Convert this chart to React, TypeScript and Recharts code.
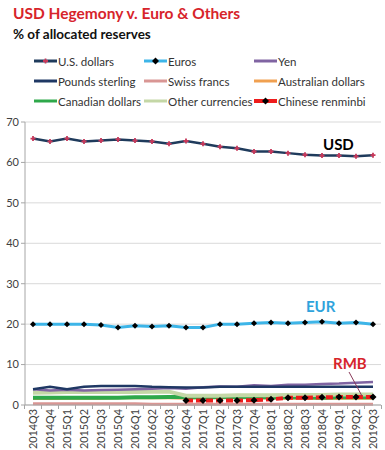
import { LineChart, Line, XAxis, YAxis, CartesianGrid } from "recharts";

const quarters = [
  "2014Q3", "2014Q4", "2015Q1", "2015Q2", "2015Q3", "2015Q4", "2016Q1",
  "2016Q2", "2016Q3", "2016Q4", "2017Q1", "2017Q2", "2017Q3", "2017Q4",
  "2018Q1", "2018Q2", "2018Q3", "2018Q4", "2019Q1", "2019Q2", "2019Q3",
];

const usd = [65.9, 65.2, 65.9, 65.2, 65.4, 65.7, 65.4, 65.2, 64.6, 65.3, 64.6, 63.9, 63.5, 62.7, 62.7, 62.3, 61.9, 61.7, 61.7, 61.5, 61.8];
const eur = [20.0, 20.0, 20.0, 20.0, 19.8, 19.2, 19.6, 19.4, 19.6, 19.2, 19.2, 20.0, 20.0, 20.2, 20.4, 20.2, 20.4, 20.6, 20.2, 20.4, 20.0];
const yen = [3.9, 3.6, 3.8, 3.6, 3.7, 3.8, 3.9, 4.0, 4.2, 4.0, 4.4, 4.6, 4.5, 4.9, 4.7, 5.0, 5.0, 5.2, 5.3, 5.5, 5.7];
const gbp = [3.9, 4.5, 3.9, 4.5, 4.7, 4.7, 4.7, 4.5, 4.4, 4.3, 4.3, 4.5, 4.5, 4.5, 4.5, 4.5, 4.5, 4.5, 4.5, 4.5, 4.5];
const chf = [0.3, 0.3, 0.3, 0.3, 0.3, 0.3, 0.3, 0.2, 0.2, 0.2, 0.2, 0.2, 0.2, 0.2, 0.2, 0.2, 0.2, 0.2, 0.2, 0.2, 0.2];
const aud = [1.6, 1.6, 1.7, 1.7, 1.7, 1.8, 1.8, 1.8, 1.8, 1.7, 1.8, 1.8, 1.8, 1.8, 1.7, 1.7, 1.7, 1.6, 1.7, 1.7, 1.7];
const cad = [1.8, 1.8, 1.8, 1.8, 1.8, 1.8, 1.9, 1.9, 1.95, 1.95, 1.9, 2.0, 2.0, 2.0, 1.9, 1.9, 1.9, 1.8, 1.9, 1.9, 1.9];
const other = [3.0, 3.1, 3.2, 3.2, 3.2, 3.2, 3.2, 3.3, 3.3, 2.3, 2.3, 2.3, 2.4, 2.4, 2.4, 2.5, 2.5, 2.5, 2.6, 2.6, 2.6];
const rmb = [null, null, null, null, null, null, null, null, null, 1.1, 1.1, 1.1, 1.1, 1.2, 1.4, 1.8, 1.8, 1.9, 1.95, 1.97, 2.0];

const yTicks = [0, 10, 20, 30, 40, 50, 60, 70];

const data = quarters.map((q, i) => ({
  q,
  usd: usd[i], eur: eur[i], yen: yen[i], gbp: gbp[i], chf: chf[i],
  aud: aud[i], cad: cad[i], other: other[i], rmb: rmb[i],
}));

const legend = [
  { name: "U.S. dollars", color: "#1f3b5c", mark: "plus" },
  { name: "Euros", color: "#3db5e8", mark: "diamond" },
  { name: "Yen", color: "#8064a2", mark: "" },
  { name: "Pounds sterling", color: "#1f3864", mark: "" },
  { name: "Swiss francs", color: "#d99694", mark: "" },
  { name: "Australian dollars", color: "#f0a050", mark: "" },
  { name: "Canadian dollars", color: "#2ea84a", mark: "" },
  { name: "Other currencies", color: "#c4d7a6", mark: "" },
  { name: "Chinese renminbi", color: "#ee1c1c", mark: "diamond" },
];

const font = "Lato, 'Liberation Sans', sans-serif";

const PlusDot = (props: any) => {
  const { cx, cy } = props;
  if (cx == null || cy == null) return null;
  return (
    <path d={`M${cx - 2.5},${cy}H${cx + 2.5}M${cx},${cy - 2.5}V${cy + 2.5}`} stroke="#c8385a" strokeWidth={1.8} />
  );
};

const Diamond = (size: number) => (props: any) => {
  const { cx, cy, value } = props;
  if (cx == null || cy == null || value == null) return null;
  return (
    <path d={`M${cx},${cy - size}L${cx + size},${cy}L${cx},${cy + size}L${cx - size},${cy}Z`} fill="#000" />
  );
};

// ticks sit between categories, like the Excel original
const XTick = (props: any) => {
  const { x, payload, index } = props;
  const half = 8.5;
  const last = index === quarters.length - 1;
  return (
    <g>
      <line x1={x - half} y1={295} x2={x - half} y2={299} stroke="#a6a6a6" />
      {last && <line x1={x + half} y1={295} x2={x + half} y2={299} stroke="#a6a6a6" />}
      <text
        transform={`translate(${x + 4},299) rotate(-90)`}
        textAnchor="end"
        fontSize={10.8}
        fill="#404040"
        fontFamily={font}
      >
        {payload.value}
      </text>
    </g>
  );
};

export default function App() {
  return (
    <div style={{ position: "absolute", left: 0, top: 0, width: 385, height: 450, background: "#fff", fontFamily: font }}>
      <div style={{ position: "absolute", left: 13, top: 4, fontSize: 15.5, fontWeight: 700, color: "#d7242b" }}>
        USD Hegemony v. Euro &amp; Others
      </div>
      <div style={{ position: "absolute", left: 13, top: 26, fontSize: 13.5, fontWeight: 700, color: "#111" }}>
        % of allocated reserves
      </div>

      {legend.map((l, i) => {
        const col = i % 3;
        const row = Math.floor(i / 3);
        const left = [34, 144, 254][col];
        const top = 61 + row * 20;
        return (
          <div key={l.name} style={{ position: "absolute", left, top: top - 9, height: 18, display: "flex", alignItems: "center", fontSize: 11.5, color: "#333", whiteSpace: "nowrap" }}>
            <svg width={23} height={10} style={{ marginRight: 1 }}>
              <line x1={0} y1={5} x2={23} y2={5} stroke={l.color} strokeWidth={l.name === "Chinese renminbi" ? 4 : 3} />
              {l.mark === "plus" && <path d="M9,5H14M11.5,2.5V7.5" stroke="#c8385a" strokeWidth={1.8} />}
              {l.mark === "diamond" && <path d="M11.5,1.5L15,5L11.5,8.5L8,5Z" fill="#000" />}
            </svg>
            {l.name}
          </div>
        );
      })}

      <div style={{ position: "absolute", left: 0, top: 110 }}>
        <LineChart width={385} height={340} data={data} margin={{ top: 12, right: 4, left: 0, bottom: 0 }}>
          <CartesianGrid vertical={false} stroke="#d9d9d9" />
          <XAxis
            dataKey="q"
            interval={0}
            height={45}
            padding={{ left: 8, right: 8 }}
            tick={<XTick />}
            stroke="#a6a6a6"
            tickLine={false}
          />
          <YAxis
            domain={[0, 70]}
            ticks={yTicks}
            width={25}
            stroke="#a6a6a6"
            tickSize={4}
            tick={{ fontSize: 11, fill: "#404040", fontFamily: font }}
          />
          <Line dataKey="chf" stroke="#d99694" strokeWidth={3} dot={false} isAnimationActive={false} />
          <Line dataKey="aud" stroke="#f0a050" strokeWidth={3} dot={false} isAnimationActive={false} />
          <Line dataKey="cad" stroke="#2ea84a" strokeWidth={4} dot={false} isAnimationActive={false} />
          <Line dataKey="other" stroke="#c4d7a6" strokeWidth={4} dot={false} isAnimationActive={false} />
          <Line dataKey="yen" stroke="#8064a2" strokeWidth={2.5} dot={false} isAnimationActive={false} />
          <Line dataKey="gbp" stroke="#1f3864" strokeWidth={2.5} dot={false} isAnimationActive={false} />
          <Line dataKey="rmb" stroke="#ee1c1c" strokeWidth={4} strokeDasharray="7 3" dot={Diamond(3.5)} connectNulls={false} isAnimationActive={false} />
          <Line dataKey="eur" stroke="#3db5e8" strokeWidth={3} dot={Diamond(3)} isAnimationActive={false} />
          <Line dataKey="usd" stroke="#1f3b5c" strokeWidth={2.5} dot={<PlusDot />} isAnimationActive={false} />
        </LineChart>
      </div>

      <div style={{ position: "absolute", left: 323, top: 135, fontSize: 15, fontWeight: 700, color: "#000" }}>USD</div>
      <div style={{ position: "absolute", left: 306, top: 297, fontSize: 15, fontWeight: 700, color: "#2fa3dc" }}>EUR</div>
      <div style={{ position: "absolute", left: 333, top: 354, fontSize: 15, fontWeight: 700, color: "#d7242b" }}>RMB</div>
      <svg style={{ position: "absolute", left: 0, top: 0 }} width={385} height={450} pointerEvents="none">
        <line x1={349} y1={372} x2={362} y2={396} stroke="#8a3a5a" strokeWidth={1} />
      </svg>
    </div>
  );
}
